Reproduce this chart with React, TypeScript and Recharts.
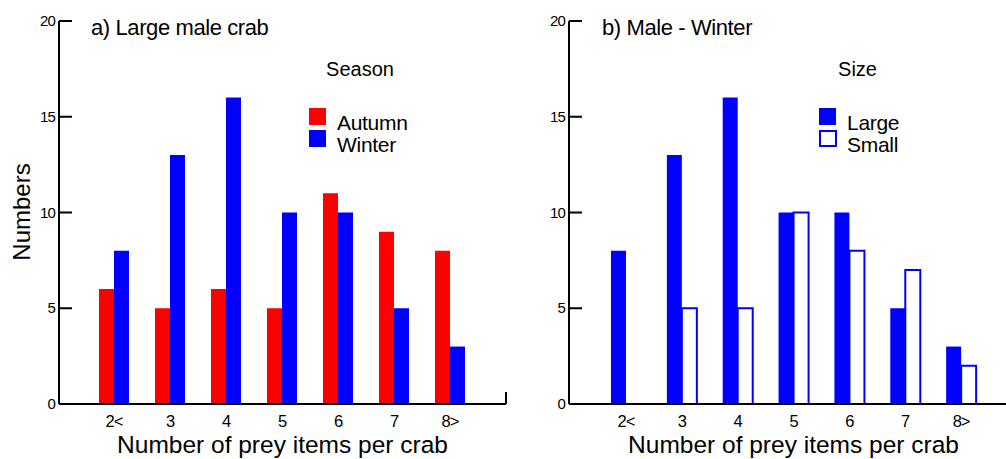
import { BarChart, Bar, XAxis, YAxis, Legend } from "recharts"

const categories = ["2<", "3", "4", "5", "6", "7", "8>"]
const autumn = [6, 5, 6, 5, 11, 9, 8]
const winter = [8, 13, 16, 10, 10, 5, 3]
const large = [8, 13, 16, 10, 10, 5, 3]
const small = [0, 5, 5, 10, 8, 7, 2]
const yTicks = [0, 5, 10, 15, 20]

const seasonData = categories.map((c, i) => ({ cat: c, autumn: autumn[i], winter: winter[i] }))
const sizeData = categories.map((c, i) => ({ cat: c, large: large[i], small: small[i] }))

const FONT = "'Liberation Sans', Arial, sans-serif"
const RED = "#ff0000"
const BLUE = "#0000ff"

type Series = { key: string; name: string; fill: string; stroke: string }

const seasonSeries: Series[] = [
  { key: "autumn", name: "Autumn", fill: RED, stroke: "none" },
  { key: "winter", name: "Winter", fill: BLUE, stroke: "none" },
]
const sizeSeries: Series[] = [
  { key: "large", name: "Large", fill: BLUE, stroke: "none" },
  { key: "small", name: "Small", fill: "#ffffff", stroke: BLUE },
]

const YTick = (props: any) => {
  const { x, y, payload } = props
  return (
    <g>
      <line x1={x + 4} x2={x + 17} y1={y} y2={y} stroke="#000" strokeWidth={2} />
      <text x={x} y={y + 5} textAnchor="end" fontSize={15} letterSpacing={-0.8} fill="#000" fontFamily={FONT}>
        {payload.value}
      </text>
    </g>
  )
}

const XTick = (props: any) => {
  const { x, y, payload } = props
  return (
    <text x={x} y={y + 12} textAnchor="middle" fontSize={16.5} letterSpacing={-1} fill="#000" fontFamily={FONT}>
      {payload.value}
    </text>
  )
}

const makeLegend = (title: string, titleX: number, series: Series[]) => (props: any) => {
  const items = props.payload || []
  return (
    <svg width={130} height={110} style={{ display: "block", overflow: "visible" }}>
      <text x={titleX} y={26} textAnchor="middle" fontSize={20} fill="#000" fontFamily={FONT}>
        {title}
      </text>
      {items.map((entry: any, i: number) => {
        const s = series.find((d) => d.key === entry.dataKey) || series[i]
        const outlined = s.stroke !== "none"
        return (
          <g key={s.key}>
            <rect
              x={outlined ? 10 : 9}
              y={58 + i * 22 + (outlined ? 1 : 0)}
              width={outlined ? 16 : 17}
              height={outlined ? 15 : 17}
              fill={s.fill}
              stroke={s.stroke}
              strokeWidth={2}
            />
            <text x={37} y={80 + i * 22} fontSize={21} fill="#000" fontFamily={FONT} letterSpacing={-0.3}>
              {entry.value}
            </text>
          </g>
        )
      })}
    </svg>
  )
}

const Panel = (p: {
  data: any[]
  series: Series[]
  width: number
  yWidth: number
  pad: { left: number; right: number }
  legend: (props: any) => any
  legendLeft: number
}) => (
  <BarChart
    width={p.width}
    height={459}
    data={p.data}
    margin={{ top: 21, right: 2, left: 0, bottom: 0 }}
    barGap={0}
    barSize={15}
  >
    <XAxis
      dataKey="cat"
      height={55}
      padding={p.pad}
      axisLine={{ stroke: "#000", strokeWidth: 2 }}
      tickLine={false}
      tickSize={0}
      tickMargin={11}
      tick={<XTick />}
      interval={0}
      label={{
        value: "Number of prey items per crab",
        position: "insideBottom",
        offset: 6,
        fontSize: 24.5,
        fill: "#000",
        fontFamily: FONT,
      }}
    />
    <YAxis
      width={p.yWidth}
      domain={[0, 20]}
      ticks={yTicks}
      axisLine={{ stroke: "#000", strokeWidth: 2 }}
      tickLine={false}
      tickSize={0}
      tickMargin={4}
      tick={<YTick />}
      interval={0}
    />
    <Legend
      content={p.legend}
      layout="horizontal"
      verticalAlign="middle"
      align="center"
      wrapperStyle={{ left: p.legendLeft, top: 50, width: 130, height: 110 }}
    />
    {p.series.map((s) => (
      <Bar
        key={s.key}
        dataKey={s.key}
        name={s.name}
        fill={s.fill}
        stroke={s.stroke}
        strokeWidth={s.stroke === "none" ? 0 : 2}
        isAnimationActive={false}
      />
    ))}
  </BarChart>
)

export default function App() {
  return (
    <div
      style={{
        position: "absolute",
        left: 0,
        top: 0,
        width: 1006,
        height: 459,
        overflow: "hidden",
        background: "#fff",
        fontFamily: FONT,
      }}
    >
      <div style={{ position: "absolute", left: 0, top: 0 }}>
        <Panel
          data={seasonData}
          series={seasonSeries}
          width={508}
          yWidth={59}
          pad={{ left: 27, right: 28 }}
          legend={makeLegend("Season", 60, seasonSeries)}
          legendLeft={300}
        />
      </div>
      <div style={{ position: "absolute", left: 500, top: 0 }}>
        <Panel
          data={sizeData}
          series={sizeSeries}
          width={520}
          yWidth={69}
          pad={{ left: 29, right: 29 }}
          legend={makeLegend("Size", 47.5, sizeSeries)}
          legendLeft={310}
        />
      </div>
      <svg
        width={1006}
        height={459}
        style={{ position: "absolute", left: 0, top: 0, pointerEvents: "none" }}
      >
        <text x={91} y={35} fontSize={22} letterSpacing={-0.4} fill="#000" fontFamily={FONT}>
          a) Large male crab
        </text>
        <text x={602} y={35} fontSize={22} letterSpacing={-0.4} fill="#000" fontFamily={FONT}>
          b) Male - Winter
        </text>
        <text
          x={21}
          y={212}
          transform="rotate(-90 21 212)"
          textAnchor="middle"
          dominantBaseline="central"
          fontSize={24}
          fill="#000"
          fontFamily={FONT}
        >
          Numbers
        </text>
        <line x1={506} x2={506} y1={392} y2={404} stroke="#000" strokeWidth={2} />
      </svg>
    </div>
  )
}
